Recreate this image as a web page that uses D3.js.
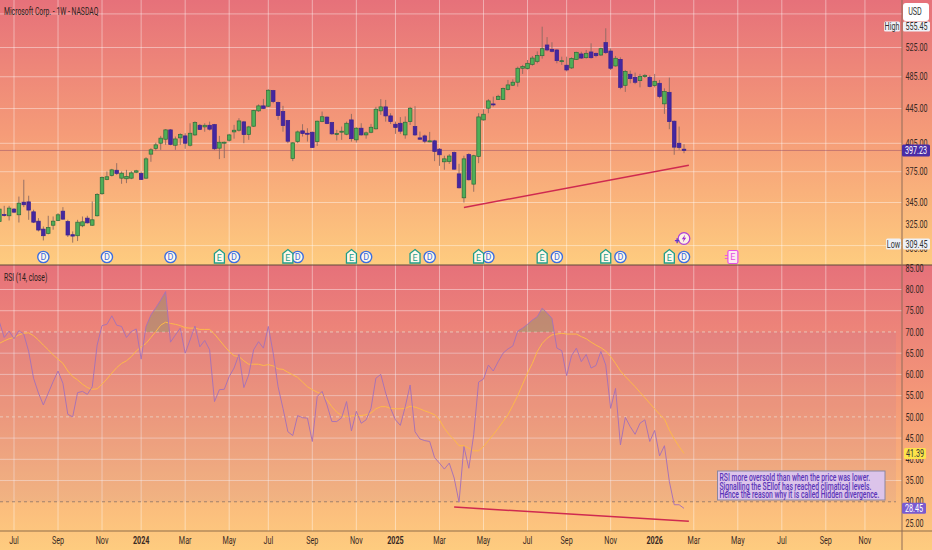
<!DOCTYPE html>
<html>
<head>
<meta charset="utf-8">
<script src="https://cdn.jsdelivr.net/npm/d3@7"></script>
<style>
    html, body { margin: 0; padding: 0; background: #fff; overflow: hidden; }
    text { font-family: "Roboto", sans-serif; }
</style>
</head>
<body>
<div id="chart"></div>
<script>
// weekly candles (first bar is late May 2023)
const opens = [327.7,333.9,332.8,338.9,333.7,345.3,345.6,336.4,328,321,317.3,324.4,328.6,337,327.7,316.2,315.3,323.9,330.7,324.4,332.8,353.3,367.2,371.2,376.5,368.5,367.9,368.5,374.5,373.2,368.5,393.3,399.4,405.1,409.5,420,402.9,411,413.2,402.9,414.3,425.3,423.4,425.3,426,399.7,405.1,408.4,417.7,419.6,429.2,414.7,424.2,442.2,448.2,447.8,467.2,452.3,441.4,430.7,388.7,406.9,418.9,416.2,417.3,406.9,429.5,434.8,428.4,415.5,417.7,415.1,431.5,408.8,421.9,414.3,417.3,421.2,442.2,447,436.2,426.5,427.6,414.3,429.5,423.8,411,413.2,407.3,407.7,398.6,385.2,385.5,395,372.8,349.4,392.9,362.6,390.9,431.5,445.4,450.6,456,456,468.7,474,477.9,496.3,495.9,501.6,505.7,513.5,528.6,522.4,521.5,505.7,500.4,496.7,508.4,515.9,510.7,518.7,516.8,514.4,532,520,499.4,508.4,473.9,488.3,484.3,479.9,485.2,484.3,473.5,476.5,450.7,465,430,405.1,398.6];
const highs = [341.3,341.9,341.9,339.8,350.6,366.9,351.4,338.3,330.7,323.3,332.8,332.2,335.2,340.7,329.2,319,329.2,332.2,332.8,346,353.9,370.2,375.2,377.9,383.8,375.2,376.9,375.5,376.9,375.2,390.1,399.7,405.7,413.2,420.8,420.8,412.5,416.2,416.2,427.6,429.9,426.8,427.6,429.5,426.8,413.2,406.9,415.5,425.7,433.5,430.3,424.6,443.4,450,456.7,468.9,468,453.5,448.2,431.5,406.2,419.2,426.5,421.9,418.1,430.7,441.4,435.6,429.2,420,423.8,429.5,438.6,423,427.6,418.1,426.8,447,456.5,455.5,439.4,429.5,434.8,435.6,447,447.8,418.1,414.7,417.7,408.8,399.7,391.6,393.3,396.1,383.1,391.6,394.3,392.6,439.4,444.2,456.5,459.6,461.9,471,480.8,481.7,498.5,500.8,507.5,513.1,519.5,555.45,540,532.5,522.4,512.1,512.1,511.2,519,519,521.5,531,517.7,524.7,553,523.8,513.1,511.2,494,493.1,490.5,488.7,488.7,486.9,488.7,480.8,470,483.9,430.7,423.8,404];
const lows = [327.7,332.2,328.6,335.2,326.8,340.7,329.2,326.3,319,311.3,316.5,320.5,328,329.2,314.2,309.45,310.8,322.7,325.9,323.9,332.2,352.3,366.5,370.2,371.8,362.9,363.6,367.5,373.5,366.9,367.9,385.2,397.2,397.9,403.3,402.9,397.9,403.3,399,401.5,413.2,420,417.9,419.3,397.9,388,389.1,406.9,410.1,418.1,405.1,408.8,423.4,441,444.8,446.6,451.4,431.5,417.9,405.1,385.9,405.1,412.5,406.9,400.1,402.1,428.8,426.6,414.3,408.1,408.8,414,406.9,405.8,413.6,410.1,416.2,420.4,437.4,429.5,426.8,415.5,415.5,410.1,425.7,413.2,408.8,405.1,406.2,385.9,381,377,383.1,377,358.4,345,366.2,355.2,383.8,430.7,439.4,447.4,455.5,455.5,467.4,473,472.2,488.7,494.6,499.8,503,509.4,519.6,518.2,503,500.8,492.1,495.4,507.5,509,509.4,509.4,511.2,513.1,515.9,494,498.5,468.9,465.5,476.5,475.4,471.3,483.4,471.3,471.3,457.6,438.6,420.8,392.6,397.9,394.3];
const closes = [338.9,333.7,339.8,336.1,344.4,342.9,338,327.1,320.2,315.3,322.4,328,333.7,329.8,315.9,315,327.1,327.4,326.5,329.2,352.6,369.2,369.9,376.9,373.2,373.5,370.2,373.8,375.9,367.2,388.3,397.9,403.3,410.7,420,403.7,409.8,414.7,405.1,416.2,428.4,420.4,425.3,420.8,399,406.2,406.2,414.3,419.6,430.3,414.7,423.4,442.6,448.2,445.2,467.6,453.5,436.6,424.9,407.3,405.5,417.7,415.8,415.8,400.4,430,435.2,427.2,415.5,415.8,418.5,427.6,410.1,421.9,414.3,416.6,423,444.2,447,436.2,429.5,422.7,418.5,428.8,445.4,414.3,409.5,407.3,407.7,396.2,392.6,388.3,391.3,377.6,359,388.3,366.9,391.6,435,438.2,454.3,449.8,460,470,474.4,477.9,496.3,498.5,503,510.2,513.6,523.3,521.5,519.6,506.6,506.6,494,509.8,518.2,510.2,516.8,510.7,513.5,523.3,517.7,496.3,509.9,471.3,491.8,482.5,477.8,485.2,486.9,472.2,479.1,459.7,465.9,429.5,400.8,400.4,397.23];

const rsi = [72.4,68.7,70.2,68.4,70.3,69.5,65.4,59.1,55.6,52.8,55.6,58.3,60.8,57.9,50.6,50,55.7,56,55.3,57.1,66.9,71.5,71.8,73.8,71.6,71.3,68.7,70.1,70.7,63.6,71.3,74,75.7,77.5,79.5,67.6,69.3,70.9,65,68.1,71.4,66.5,68,65.8,53.6,56.4,56.5,59.5,61.5,64.7,56.9,59.9,65.8,67.7,66.2,71.3,65,57.1,52,46.5,45.6,50.3,49.8,49.7,44.2,54.8,56,52.8,48.9,48.9,49.8,53.6,46.7,51.3,48.5,49.3,52,59.1,60,55.6,52,49.3,48,52.4,57.5,46.5,44.8,44.4,44.2,40.4,39.1,37.7,39.1,35.6,29.9,43,37.9,45.8,58.2,58.9,62.2,60.8,63,65,66,66.7,70.2,70.9,71.8,72.8,73.6,75.6,74.5,73.2,66.2,65.6,59.7,64.4,66.2,63,64.7,61.5,62.1,65.4,62.2,52,56.7,43.4,49.9,47.7,45.9,48.5,49.3,44.2,46.8,40.8,43.2,34.8,29.3,29.3,28.45];
const rsiMa = [67.3,67.9,68.4,68.7,69.3,69.7,69.8,69.1,68.1,66.9,65.8,64.6,63.6,62.6,60.8,59.5,58.7,57.7,56.9,56.5,56.6,57.7,58.9,60.3,61.6,62.6,63.2,64.2,65.5,66.5,67.3,68.7,70.1,71.6,72.3,72,71.8,71.5,71,70.9,70.9,70.6,70.6,70.6,69.5,68.1,66.7,65.4,64.4,64.2,63.2,62.4,62.4,62.4,62.1,62.3,62,61.3,61.2,60.5,59.9,59.3,58.2,57.1,56.4,55.8,55.3,54,52.4,51.1,50.3,50.1,50.2,50.3,50.3,50.5,50.9,51.9,52.4,52.4,52,51.9,51.9,52,52.5,52.3,51.9,51.4,51,50.5,49.3,47.3,45.8,44.6,43.2,43.2,42.6,42,42,43,44.4,45.8,47.3,48.9,50.5,52.7,55,57.7,60.3,62.6,65.4,67.3,68.5,69.3,69.5,69.7,69.5,69.5,69.5,68.9,68.4,67.6,66.9,66.3,65.5,64.2,62.6,60.8,59.5,58.3,57.1,55.8,54.5,53.2,51.9,50.6,49.5,46.9,44.8,43,41.39];

const timeLabels = ["Jul","Sep","Nov","2024","Mar","May","Jul","Sep","Nov","2025","Mar","May","Jul","Sep","Nov","2026","Mar","May","Jul","Sep","Nov"];
const timeBars = [3,12,21,29,38,47,55,64,73,81,90,99,108,116,125,134,142,151,160,169,177];

const priceGrid = [575,525,485,445,405,375,345,307];
const priceLabels = [525,485,445,405,375,345,325,305];
const rsiGrid = [80,75,65,60,55,45,40,35];
const rsiLabels = [85,80,75,70,65,60,55,50,45,40,35,30,25];
const rsiLevels = [70,50,30];

// bars where the picture shows the overbought shading
const overboughtBars = [[30,31,32,33,34,35],[105,106,107,108,109,110,111,112,113,114]];

const dividends = [9,22,35,48,61,75,88,100,114,127,140];
const earnings = [45,59,72,85,98,111,124,137];
const nextEarnings = 150;

const priceTrend = [[95,340.4],[141,381.7]];
const rsiTrend = [[93,28.75],[141,25.4]];
const noteLines = [
    "RSI more oversold than when the price was lower.",
    "Signalling the SEllof has reached climatical levels.",
    "Hence the reason why it is called Hidden divergence."
];

const width = 932, height = 550;
const axisX = 902, paneSplit = 265, bottomY = 531;
const bars = d3.range(closes.length);

const x = d3.scaleLinear().domain([0, 140]).range([-0.67, 684]);
const yPrice = d3.scaleLog().domain([525, 345]).range([47.5, 202.5]);
const yRsi = d3.scaleLinear().domain([80, 25]).range([289.5, 523]);

// the screenshot's font is narrow, squeeze the text to fit
function condense(sel, k) {
    sel.each(function () {
        this.setAttribute("textLength", this.getComputedTextLength() * k);
        this.setAttribute("lengthAdjust", "spacingAndGlyphs");
    });
}

const svg = d3.select("#chart").append("svg")
    .attr("width", width)
    .attr("height", height)
    .style("display", "block");

const defs = svg.append("defs");
function addGradient(id) {
    const g = defs.append("linearGradient").attr("id", id)
        .attr("x1", "0%").attr("y1", "0%").attr("x2", "0%").attr("y2", "100%");
    g.append("stop").attr("offset", "0%").attr("stop-color", "#e6717a");
    g.append("stop").attr("offset", "50%").attr("stop-color", "#f59b78");
    g.append("stop").attr("offset", "100%").attr("stop-color", "#fecc7f");
}
addGradient("bgTop");
addGradient("bgBottom");
defs.append("clipPath").attr("id", "above70").append("rect")
    .attr("x", 0).attr("width", axisX).attr("y", paneSplit).attr("height", yRsi(70) - paneSplit);
defs.append("clipPath").attr("id", "plotClip").append("rect")
    .attr("x", 0).attr("y", 0).attr("width", axisX).attr("height", bottomY);

svg.append("rect").attr("width", width).attr("height", paneSplit).attr("fill", "url(#bgTop)");
svg.append("rect").attr("y", paneSplit).attr("width", width).attr("height", height - paneSplit).attr("fill", "url(#bgBottom)");

// grid
const gridColor = "rgba(255,255,255,0.42)";
const plot = svg.append("g").attr("clip-path", "url(#plotClip)");
plot.selectAll(".vgrid").data(timeBars).enter().append("line")
    .attr("x1", (d) => x(d)).attr("x2", (d) => x(d))
    .attr("y1", 0).attr("y2", bottomY)
    .attr("stroke", gridColor).attr("stroke-width", 1);
plot.selectAll(".hgrid").data(priceGrid).enter().append("line")
    .attr("x1", 0).attr("x2", axisX)
    .attr("y1", (d) => yPrice(d)).attr("y2", (d) => yPrice(d))
    .attr("stroke", gridColor).attr("stroke-width", 1);
plot.selectAll(".rgrid").data(rsiGrid).enter().append("line")
    .attr("x1", 0).attr("x2", axisX)
    .attr("y1", (d) => yRsi(d)).attr("y2", (d) => yRsi(d))
    .attr("stroke", gridColor).attr("stroke-width", 1);

// last price line
plot.append("line")
    .attr("x1", 0).attr("x2", axisX)
    .attr("y1", yPrice(closes[140])).attr("y2", yPrice(closes[140]))
    .attr("stroke", "rgba(140,70,100,0.45)").attr("stroke-width", 1);

// candles
const candles = plot.append("g").selectAll("g").data(bars).enter().append("g");
candles.append("line")
    .attr("x1", (i) => x(i)).attr("x2", (i) => x(i))
    .attr("y1", (i) => yPrice(highs[i])).attr("y2", (i) => yPrice(lows[i]))
    .attr("stroke", "#8c6a62").attr("stroke-width", 0.9);
candles.append("rect")
    .attr("x", (i) => x(i) - 1.8)
    .attr("width", 3.6)
    .attr("y", (i) => yPrice(Math.max(opens[i], closes[i])))
    .attr("height", (i) => Math.max(1, Math.abs(yPrice(opens[i]) - yPrice(closes[i]))))
    .attr("fill", (i) => closes[i] >= opens[i] ? "#4fae57" : "#4527a0")
    .attr("stroke", (i) => closes[i] >= opens[i] ? "#2c6b3a" : "#3a2290")
    .attr("stroke-width", 0.7);

// RSI band and levels
plot.append("rect")
    .attr("x", 0).attr("width", 896)
    .attr("y", yRsi(70)).attr("height", yRsi(30) - yRsi(70))
    .attr("fill", "rgba(126,87,194,0.08)");
plot.selectAll(".level").data(rsiLevels).enter().append("line")
    .attr("x1", 0).attr("x2", 896)
    .attr("y1", (d) => yRsi(d)).attr("y2", (d) => yRsi(d))
    .attr("stroke", (d) => d === 30 ? "rgba(130,110,100,0.75)" : "rgba(235,205,190,0.9)")
    .attr("stroke-dasharray", "3,3");

// overbought fill
const obArea = d3.area()
    .x((i) => x(i))
    .y0(yRsi(70))
    .y1((i) => yRsi(rsi[i]));
plot.selectAll(".ob").data(overboughtBars).enter().append("path")
    .attr("d", obArea)
    .attr("clip-path", "url(#above70)")
    .attr("fill", "rgba(90,160,100,0.30)");

const rsiLine = d3.line().x((i) => x(i)).y((i) => yRsi(rsi[i]));
const maLine = d3.line().x((i) => x(i)).y((i) => yRsi(rsiMa[i]));
plot.append("path").datum(bars).attr("d", maLine)
    .attr("fill", "none").attr("stroke", "#fdb94a").attr("stroke-width", 1);
plot.append("path").datum(bars).attr("d", rsiLine)
    .attr("fill", "none").attr("stroke", "#aa73b4").attr("stroke-width", 1);

// drawn trend lines
const trendColor = "#cf2a50";
plot.append("path").datum(priceTrend)
    .attr("d", d3.line().x((d) => x(d[0])).y((d) => yPrice(d[1])))
    .attr("fill", "none").attr("stroke", trendColor).attr("stroke-width", 1.5);
plot.append("path").datum(rsiTrend)
    .attr("d", d3.line().x((d) => x(d[0])).y((d) => yRsi(d[1])))
    .attr("fill", "none").attr("stroke", trendColor).attr("stroke-width", 1.5);

// events row
const eventY = 257;
const dGroup = svg.append("g").selectAll("g").data(dividends).enter().append("g");
dGroup.append("circle")
    .attr("cx", (d) => x(d)).attr("cy", eventY).attr("r", 5.6)
    .attr("fill", "#fff8ea").attr("stroke", "#3d6fe0").attr("stroke-width", 1.4);
dGroup.append("text")
    .attr("x", (d) => x(d)).attr("y", eventY + 3.2)
    .attr("text-anchor", "middle").attr("font-size", 9)
    .attr("fill", "#3d6fe0").text("D");

function flagPath(d) {
    const cx = x(d);
    const p = d3.path();
    p.moveTo(cx, eventY - 7.5);
    p.lineTo(cx + 5, eventY - 3.5);
    p.lineTo(cx + 5, eventY + 6);
    p.lineTo(cx - 5, eventY + 6);
    p.lineTo(cx - 5, eventY - 3.5);
    p.closePath();
    return p.toString();
}
const eGroup = svg.append("g").selectAll("g").data(earnings).enter().append("g");
eGroup.append("path").attr("d", flagPath)
    .attr("fill", "#fff8ea").attr("stroke", "#1f9e8a").attr("stroke-width", 1.3);
eGroup.append("text")
    .attr("x", (d) => x(d)).attr("y", eventY + 3.8)
    .attr("text-anchor", "middle").attr("font-size", 9)
    .attr("fill", "#1f9e8a").text("E");

// upcoming earnings
const nx = x(nextEarnings);
svg.append("rect").attr("x", nx - 5).attr("y", eventY - 6.5).attr("width", 10).attr("height", 13).attr("rx", 1.5)
    .attr("fill", "#fdeaf0").attr("stroke", "#e650e6").attr("stroke-width", 1.2);
svg.append("text").attr("x", nx).attr("y", eventY + 3.2).attr("text-anchor", "middle").attr("font-size", 9)
    .attr("fill", "#e650e6").text("E");
[-1.5, 1.5].forEach((dy) => {
    svg.append("line").attr("x1", nx - 8).attr("x2", nx - 5)
        .attr("y1", eventY + dy).attr("y2", eventY + dy)
        .attr("stroke", "#e650e6").attr("stroke-width", 0.9);
});

// bolt badge above the last dividend
const bx = x(140), by = 238.5;
svg.append("circle").attr("cx", bx).attr("cy", by).attr("r", 5.8)
    .attr("fill", "#fdf2e4").attr("stroke", "#b044d8").attr("stroke-width", 1.3);
const bolt = d3.path();
bolt.moveTo(bx + 1.2, by - 4);
bolt.lineTo(bx - 2.2, by + 0.8);
bolt.lineTo(bx - 0.2, by + 0.8);
bolt.lineTo(bx - 1.2, by + 4);
bolt.lineTo(bx + 2.2, by - 0.8);
bolt.lineTo(bx + 0.2, by - 0.8);
bolt.closePath();
svg.append("path").attr("d", bolt.toString()).attr("fill", "#a030d0");
svg.append("text").attr("x", bx - 7).attr("y", by + 5.5).attr("text-anchor", "middle").attr("font-size", 9)
    .attr("font-weight", "bold").attr("fill", "#5a35c8").text("+");

// note box
const note = svg.append("g");
note.append("rect").attr("x", 717.5).attr("y", 471).attr("width", 167.5).attr("height", 29)
    .attr("fill", "#dcc4ea").attr("stroke", "#8a86a0").attr("stroke-width", 1);
note.selectAll("text").data(noteLines).enter().append("text")
    .attr("x", 719.5).attr("y", (d, i) => 481 + i * 8.6)
    .attr("font-size", 10)
    .attr("font-weight", 500)
    .attr("fill", "#5a35b8")
    .text((d) => d)
    .call(condense, 0.68);

// pane borders
svg.append("line").attr("x1", 0).attr("x2", width).attr("y1", paneSplit).attr("y2", paneSplit)
    .attr("stroke", "#5e4a3c").attr("stroke-width", 1.2);
svg.append("line").attr("x1", 0).attr("x2", width).attr("y1", bottomY).attr("y2", bottomY)
    .attr("stroke", "#8f6d48").attr("stroke-width", 1);
svg.append("line").attr("x1", axisX).attr("x2", axisX).attr("y1", 0).attr("y2", height)
    .attr("stroke", "#8f6d58").attr("stroke-width", 1);

// axes
const axisText = "#3a2a24";
const priceAxis = d3.axisRight(yPrice).tickValues(priceLabels).tickSize(0).tickPadding(0)
    .tickFormat(d3.format(".2f"));
const priceG = svg.append("g").attr("transform", "translate(905.5,0)").call(priceAxis);
const rsiAxis = d3.axisRight(yRsi).tickValues(rsiLabels).tickSize(0).tickPadding(0)
    .tickFormat(d3.format(".2f"));
const rsiG = svg.append("g").attr("transform", "translate(905.5,0)").call(rsiAxis);
[priceG, rsiG].forEach((g) => {
    g.select(".domain").remove();
    g.selectAll("text").attr("font-size", 10).attr("fill", axisText)
        .style("font-family", "Roboto, sans-serif")
        .call(condense, 0.72);
});

const timeScale = d3.scaleOrdinal().domain(timeBars).range(timeLabels);
svg.append("g").selectAll("text").data(timeBars).enter().append("text")
    .attr("x", (d) => x(d)).attr("y", 544)
    .attr("text-anchor", "middle")
    .attr("font-size", 10)
    .attr("font-weight", (d) => /^\d/.test(timeScale(d)) ? "bold" : "normal")
    .attr("fill", axisText)
    .text((d) => timeScale(d))
    .call(condense, 0.72);

// titles
svg.append("text").attr("x", 4).attr("y", 15).attr("font-size", 10).attr("fill", "#2b1f1c")
    .text("Microsoft Corp. - 1W - NASDAQ")
    .call(condense, 0.68);
svg.append("text").attr("x", 4).attr("y", 281).attr("font-size", 10).attr("fill", "#2b1f1c")
    .text("RSI (14, close)")
    .call(condense, 0.68);

// price tags
function tag(label, yPos, bg, fg, x0, w, h) {
    svg.append("rect").attr("x", x0).attr("y", yPos - h / 2).attr("width", w).attr("height", h)
        .attr("rx", 1.5).attr("fill", bg);
    svg.append("text").attr("x", x0 + w / 2).attr("y", yPos + 3.5).attr("text-anchor", "middle")
        .attr("font-size", 10).attr("fill", fg).text(label)
        .call(condense, 0.72);
}
svg.append("rect").attr("x", 903).attr("y", 3).attr("width", 26).attr("height", 18).attr("rx", 3).attr("fill", "#fff");
svg.append("text").attr("x", 915).attr("y", 15.2).attr("text-anchor", "middle").attr("font-size", 10).attr("fill", "#333").text("USD")
    .call(condense, 0.72);
const tagBg = "#eef1f7";
tag("High", 26.5, tagBg, "#333", 884, 16, 10);
tag(d3.format(".2f")(d3.max(highs)), 26.5, tagBg, "#333", 903, 27, 10);
tag("Low", 244, tagBg, "#333", 886, 15, 11);
tag(d3.format(".2f")(d3.min(lows)), 244, tagBg, "#333", 903, 27, 11);
tag(d3.format(".2f")(closes[140]), yPrice(closes[140]), "#4a2ca6", "#fff", 902, 28, 12);
tag(d3.format(".2f")(rsiMa[140]), yRsi(rsiMa[140]), "#fde34a", "#333", 904, 22, 11);
tag(d3.format(".2f")(rsi[140]), yRsi(rsi[140]), "#7a5bcf", "#fff", 902, 24, 11);
</script>
</body>
</html>
